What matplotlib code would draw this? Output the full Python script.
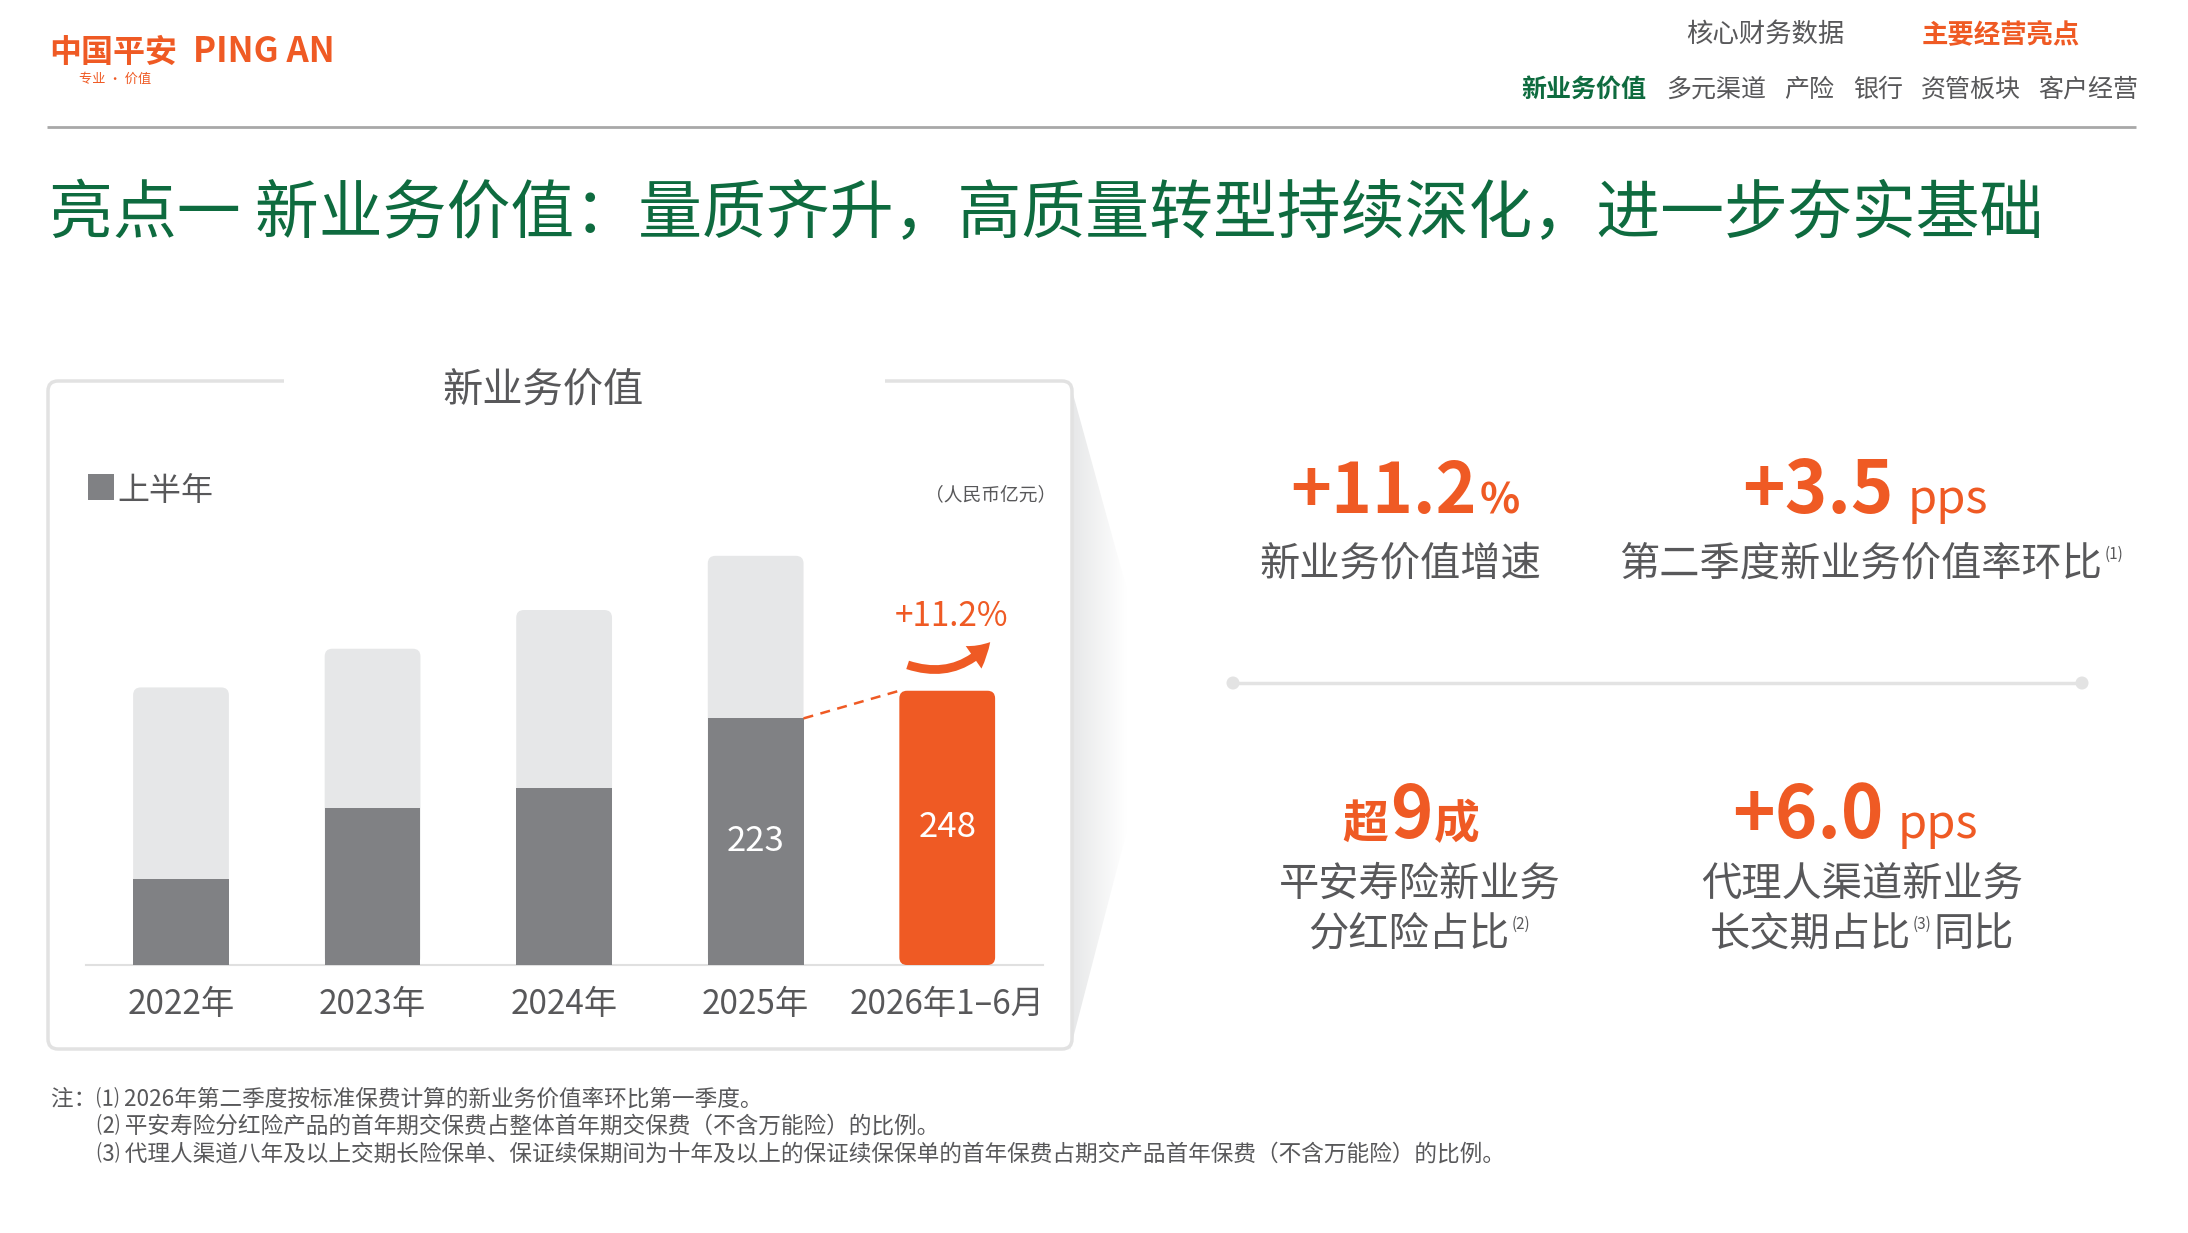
import numpy as np
import matplotlib
matplotlib.use("Agg")
import matplotlib.pyplot as plt
from matplotlib.patches import FancyBboxPatch, Rectangle, Polygon, FancyArrowPatch, Circle

plt.rcParams['font.family'] = ['Noto Sans CJK SC', 'DejaVu Sans']

# data
years = ['2022年', '2023年', '2024年', '2025年', '2026年1–6月']
h1_value = [78, 142, 160, 223, 248]          # 上半年
full_year = [251, 286, 321, 370]              # 全年 (2022-2025)
shown_labels = {3: '223', 4: '248'}
growth_text = '+11.2%'

nav_top = ['核心财务数据', '主要经营亮点']
nav_sub = ['新业务价值', '多元渠道', '产险', '银行', '资管板块', '客户经营']
notes = ['注：⑴ 2026年第二季度按标准保费计算的新业务价值率环比第一季度。',
         '⑵ 平安寿险分红险产品的首年期交保费占整体首年期交保费（不含万能险）的比例。',
         '⑶ 代理人渠道八年及以上交期长险保单、保证续保期间为十年及以上的保证续保保单的首年保费占期交产品首年保费（不含万能险）的比例。']

ORANGE = '#EF5A24'
GREEN = '#0E6B3F'
GREY_TXT = '#58585A'
DARK = '#808184'
LIGHT = '#E6E7E8'

W, H = 2188, 1233
fig = plt.figure(figsize=(W / 100, H / 100), dpi=100)

# page layer in pixel coords (y down)
bg = fig.add_axes([0, 0, 1, 1])
bg.set_xlim(0, W)
bg.set_ylim(H, 0)
bg.axis('off')

renderer = fig.canvas.get_renderer()


def run(pieces, xc, yb, gap=0):
    """place text pieces side by side on a common baseline, centred on xc"""
    texts = []
    for s, size, color, weight, dy in pieces:
        t = bg.text(0, yb - dy, s, fontsize=size, color=color, fontweight=weight,
                    ha='left', va='baseline')
        texts.append(t)
    widths = [t.get_window_extent(renderer).width for t in texts]
    x = xc - (sum(widths) + gap * (len(texts) - 1)) / 2
    for t, w in zip(texts, widths):
        t.set_x(x)
        x += w + gap


# logo
bg.text(49, 62, '中国平安', fontsize=23, fontweight='bold', color=ORANGE, va='baseline')
bg.text(193, 62, 'PING AN', fontsize=25, fontweight='bold', color=ORANGE, va='baseline')
bg.text(79, 83, '专业 · 价值', fontsize=9.5, color=ORANGE, va='baseline')

# navigation
bg.text(1686, 42, nav_top[0], fontsize=19, color=GREY_TXT, va='baseline')
bg.text(1922, 42, nav_top[1], fontsize=19, color=ORANGE, fontweight='bold', va='baseline')
sub_x = [1521, 1666, 1784, 1853, 1921, 2038]
for i, (s, x) in enumerate(zip(nav_sub, sub_x)):
    bg.text(x, 97, s, fontsize=18, va='baseline',
            color=GREEN if i == 0 else GREY_TXT, fontweight='bold' if i == 0 else 'normal')
bg.plot([47, 2136], [127, 127], color='#A8A8A8', lw=2, solid_capstyle='butt')

# title
bg.text(49, 233, '亮点一 新业务价值：量质齐升，高质量转型持续深化，进一步夯实基础',
        fontsize=46, color=GREEN, fontweight='medium', va='baseline')

# chart card with side shadow
shadow = Polygon([(1070, 383), (1127, 590), (1127, 830), (1070, 1050)], closed=True,
                 facecolor='none', edgecolor='none')
bg.add_patch(shadow)
grad = np.linspace(0, 1, 64)[None, :]
im = bg.imshow(grad, cmap=matplotlib.colors.LinearSegmentedColormap.from_list('s', [LIGHT, '#FFFFFF']),
               extent=[1070, 1127, 1050, 383], aspect='auto', zorder=1)
im.set_clip_path(shadow)
bg.set_xlim(0, W)
bg.set_ylim(H, 0)

card = FancyBboxPatch((48, 381), 1024, 668, boxstyle='round,pad=0,rounding_size=10',
                      facecolor='white', edgecolor='#E2E2E2', lw=2.5, zorder=2)
bg.add_patch(card)
bg.add_patch(Rectangle((284, 374), 601, 14, facecolor='white', edgecolor='none', zorder=3))
bg.text(543, 402, '新业务价值', fontsize=29, color=GREY_TXT, ha='center', va='baseline', zorder=4)

# legend + unit
bg.add_patch(Rectangle((88, 474), 26, 26, facecolor=DARK, edgecolor='none', zorder=4))
bg.text(117, 500, '上半年', fontsize=23, color=GREY_TXT, va='baseline', zorder=4)
bg.text(1056, 500, '（人民币亿元）', fontsize=13.5, color=GREY_TXT, ha='right', va='baseline',
        style='italic', zorder=4)

# bar chart
ax_l, ax_r, ax_b, ax_t = 86, 1043, 965, 520
ax = fig.add_axes([ax_l / W, 1 - ax_b / H, (ax_r - ax_l) / W, (ax_b - ax_t) / H])
ax.patch.set_alpha(0)
x = np.arange(len(years))
bw = 0.5
ax.set_xlim(-0.496, 4.50)
ax.set_ylim(0, 402.4)
aspect = (1 / 1.106) / (1 / 191.5)


def round_bar(xc, h, color, z):
    p = FancyBboxPatch((xc - bw / 2, 0), bw, h, boxstyle='round,pad=0,rounding_size=0.04',
                       mutation_aspect=aspect, facecolor=color, edgecolor='none', zorder=z)
    ax.add_patch(p)


for i, v in enumerate(full_year):
    round_bar(x[i], v, LIGHT, 2)
ax.bar(x[:4], h1_value[:4], width=bw, color=DARK, zorder=3)
round_bar(x[4], h1_value[4], ORANGE, 3)

for i, s in shown_labels.items():
    ax.text(x[i], h1_value[i] / 2, s, color='white', fontsize=25, ha='center', va='center', zorder=5)

ax.plot([x[3] + bw / 2, x[4] - bw / 2], [h1_value[3], h1_value[4]], color=ORANGE, lw=1.8,
        dashes=(4, 3), zorder=4)

ax.set_xticks(x)
ax.set_xticklabels(years, fontsize=24, color=GREY_TXT)
ax.tick_params(axis='x', length=0, pad=16)
ax.set_yticks([])
for sp in ['left', 'right', 'top']:
    ax.spines[sp].set_visible(False)
ax.spines['bottom'].set_color('#E0E0E0')
ax.spines['bottom'].set_linewidth(1.5)

# growth annotation
bg.text(951, 626, growth_text, fontsize=24, color=ORANGE, ha='center', va='baseline', zorder=6)
arrow = FancyArrowPatch((905, 664), (992, 640), connectionstyle='arc3,rad=0.35',
                        arrowstyle='simple,head_length=0.9,head_width=1.1,tail_width=0.35',
                        mutation_scale=18, color=ORANGE, lw=0, zorder=6)
bg.add_artist(arrow)

# KPI block
run([('+11.2', 50, ORANGE, 'bold', 0), ('%', 30, ORANGE, 'bold', 0)], 1405, 513, gap=3)
run([('新业务价值增速', 29, GREY_TXT, 'normal', 0)], 1400, 576)
run([('+3.5', 52, ORANGE, 'bold', 0), ('pps', 34, ORANGE, 'normal', 0)], 1865, 513, gap=14)
run([('第二季度新业务价值率环比', 29, GREY_TXT, 'normal', 0), ('(1)', 11, GREY_TXT, 'normal', 17)],
    1871, 576, gap=2)

bg.plot([1233, 2082], [683, 683], color='#E3E3E3', lw=2.5, solid_capstyle='butt')
for cx in (1233, 2082):
    bg.add_patch(Circle((cx, 683), 6.5, facecolor='#E3E3E3', edgecolor='none'))

run([('超', 33, ORANGE, 'bold', 0), ('9', 52, ORANGE, 'bold', 0), ('成', 33, ORANGE, 'bold', 0)],
    1411, 838, gap=2)
run([('平安寿险新业务', 29, GREY_TXT, 'normal', 0)], 1420, 896)
run([('分红险占比', 29, GREY_TXT, 'normal', 0), ('(2)', 11, GREY_TXT, 'normal', 17)], 1419, 946, gap=2)

run([('+6.0', 52, ORANGE, 'bold', 0), ('pps', 34, ORANGE, 'normal', 0)], 1855, 838, gap=14)
run([('代理人渠道新业务', 29, GREY_TXT, 'normal', 0)], 1862, 896)
run([('长交期占比', 29, GREY_TXT, 'normal', 0), ('(3)', 11, GREY_TXT, 'normal', 17),
     ('同比', 29, GREY_TXT, 'normal', 0)], 1862, 946, gap=2)

# notes
bg.text(51, 1099, notes[0], fontsize=16.3, color=GREY_TXT, va='center')
bg.text(97, 1126, notes[1], fontsize=16.3, color=GREY_TXT, va='center')
bg.text(97, 1154, notes[2], fontsize=16.3, color=GREY_TXT, va='center')

fig.savefig('out.png', dpi=100)
